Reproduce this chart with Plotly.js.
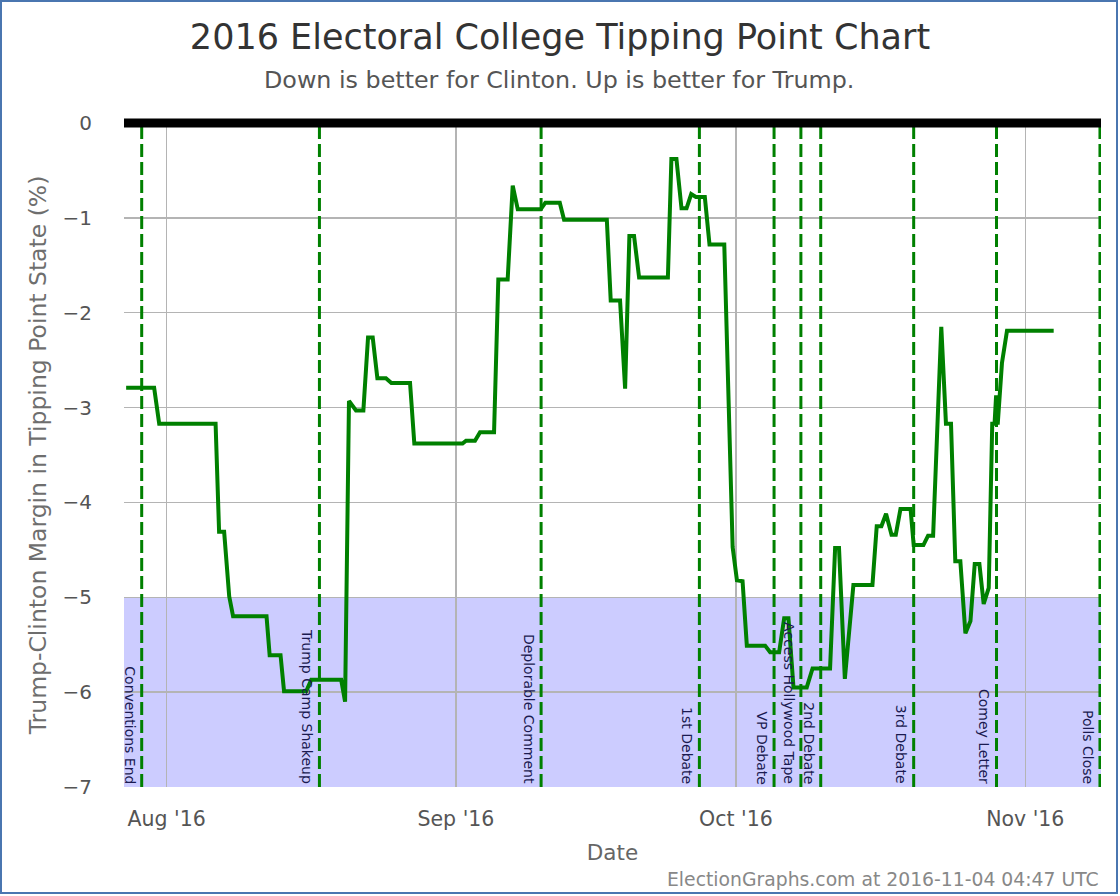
<!DOCTYPE html>
<html>
<head>
<meta charset="utf-8">
<script src="https://cdn.plot.ly/plotly-3.0.1.min.js"></script>
<style>
  html, body { margin: 0; padding: 0; background: #fff; }
  #wrap { position: relative; width: 1120px; height: 896px; }
  #chart { width: 1120px; height: 896px; }
  #frame { position: absolute; left: 0; top: 0; width: 1118px; height: 894px;
           box-sizing: border-box; border: 2px solid #4a76b0; pointer-events: none; }
</style>
</head>
<body>
<div id="wrap"><div id="chart"></div><div id="frame"></div></div>
<script>
// Tipping point margin series (Trump - Clinton, %)
const dates = [
  '2016-07-27 16:00','2016-07-30 16:00','2016-07-31 05:00','2016-08-06 06:00','2016-08-06 15:00',
  '2016-08-07 04:00','2016-08-07 17:00','2016-08-08 03:00','2016-08-11 17:00','2016-08-12 01:00',
  '2016-08-13 05:00','2016-08-13 14:00','2016-08-15 23:00','2016-08-16 12:00','2016-08-19 17:00',
  '2016-08-20 03:00','2016-08-20 13:00','2016-08-21 07:00','2016-08-22 02:00','2016-08-22 14:00',
  '2016-08-23 02:00','2016-08-23 14:00','2016-08-24 12:00','2016-08-25 02:00','2016-08-27 02:00',
  '2016-08-27 13:00','2016-09-01 17:00','2016-09-02 02:00','2016-09-03 01:00','2016-09-03 14:00',
  '2016-09-05 02:00','2016-09-05 13:00','2016-09-06 13:00','2016-09-07 02:00','2016-09-07 15:00',
  '2016-09-10 02:00','2016-09-10 14:00','2016-09-12 03:00','2016-09-12 14:00','2016-09-17 04:00',
  '2016-09-17 14:00','2016-09-18 14:00','2016-09-19 03:00','2016-09-19 14:00','2016-09-20 02:00',
  '2016-09-20 15:00','2016-09-23 17:00','2016-09-24 02:00','2016-09-24 15:00','2016-09-25 04:00',
  '2016-09-25 17:00','2016-09-26 05:00','2016-09-26 17:00','2016-09-27 16:00','2016-09-28 04:00',
  '2016-09-29 18:00','2016-09-30 15:30','2016-10-01 02:30','2016-10-01 17:00','2016-10-02 04:00',
  '2016-10-04 03:00','2016-10-04 16:00','2016-10-05 15:00','2016-10-06 04:00','2016-10-06 15:00',
  '2016-10-07 04:00','2016-10-08 14:00','2016-10-09 05:00','2016-10-11 02:00','2016-10-11 15:00',
  '2016-10-12 01:00','2016-10-12 16:00','2016-10-13 14:00','2016-10-15 15:00','2016-10-16 02:00',
  '2016-10-16 14:00','2016-10-17 02:00','2016-10-17 16:00','2016-10-18 03:00','2016-10-18 15:00',
  '2016-10-19 17:00','2016-10-20 01:00','2016-10-21 02:00','2016-10-21 14:00','2016-10-22 03:00',
  '2016-10-23 00:00','2016-10-23 12:00','2016-10-24 01:00','2016-10-24 12:00','2016-10-25 01:00',
  '2016-10-25 14:00','2016-10-26 03:00','2016-10-26 14:00','2016-10-27 02:00','2016-10-27 13:00',
  '2016-10-28 02:00','2016-10-28 11:00','2016-10-28 17:00','2016-10-28 21:00','2016-10-29 01:00',
  '2016-10-29 12:00','2016-10-30 01:00','2016-11-04 01:00'
];
const margins = [
  -2.79,-2.79,-3.17,-3.17,-4.31,
  -4.31,-4.99,-5.20,-5.20,-5.61,
  -5.61,-5.99,-5.99,-5.87,-5.87,
  -6.10,-2.93,-3.03,-3.03,-2.26,
  -2.26,-2.69,-2.69,-2.74,-2.74,
  -3.38,-3.38,-3.35,-3.35,-3.26,
  -3.26,-1.65,-1.65,-0.66,-0.91,
  -0.91,-0.84,-0.84,-1.02,-1.02,
  -1.87,-1.87,-2.80,-1.19,-1.19,
  -1.63,-1.63,-0.38,-0.38,-0.90,
  -0.90,-0.75,-0.78,-0.78,-1.28,
  -1.28,-4.47,-4.82,-4.83,-5.51,
  -5.51,-5.58,-5.58,-5.22,-5.22,
  -5.95,-5.95,-5.75,-5.75,-4.48,
  -4.48,-5.86,-4.87,-4.87,-4.25,
  -4.25,-4.12,-4.34,-4.34,-4.07,
  -4.07,-4.45,-4.45,-4.35,-4.35,
  -2.15,-3.17,-3.17,-4.62,-4.62,
  -5.38,-5.25,-4.65,-4.65,-5.07,
  -4.90,-3.17,-3.17,-2.87,-3.18,
  -2.53,-2.19,-2.19
];

// Event markers
const eventNames = ['Conventions End','Trump Camp Shakeup','Deplorable Comment','1st Debate','VP Debate',
  'Access Hollywood Tape','2nd Debate','3rd Debate','Comey Letter','Polls Close'];
const eventDates = ['2016-07-29 08:00','2016-08-17 09:00','2016-09-10 03:00','2016-09-27 02:00','2016-10-05 02:00',
  '2016-10-07 23:00','2016-10-10 02:00','2016-10-20 01:00','2016-10-28 22:00','2016-11-09 00:00'];

// Shaded band and axis range
const bandRange = [-7, -5];
const xRange = ['2016-07-27 10:30', '2016-11-09 02:40'];
const yRange = [-7, 0];

const FONT = 'DejaVu Sans, sans-serif';
const traces = [];
eventDates.forEach(function (d) {
  traces.push({ x: [d, d], y: yRange, mode: 'lines', hoverinfo: 'skip', showlegend: false,
    line: { color: '#008000', width: 3, dash: '13px,5px' } });
});
traces.push({ x: dates, y: margins, mode: 'lines', showlegend: false,
  line: { color: '#008000', width: 4, shape: 'linear' } });

const shapes = [
  { type: 'rect', xref: 'paper', yref: 'y', x0: 0, x1: 1, y0: bandRange[0], y1: bandRange[1],
    fillcolor: 'rgba(0,0,255,0.2)', line: { width: 0 }, layer: 'between' },
  { type: 'line', xref: 'paper', yref: 'paper', x0: 0, x1: 1, y0: 1, y1: 1,
    line: { color: '#000', width: 9 }, layer: 'above' }
];

const annotations = eventNames.map(function (n, i) {
  return { x: eventDates[i], y: yRange[0], xref: 'x', yref: 'y', text: n, showarrow: false,
    textangle: 90, xanchor: 'right', yanchor: 'bottom', xshift: -2, yshift: 1,
    font: { family: FONT, size: 14, color: '#1a1a50' } };
});
annotations.push({ xref: 'paper', yref: 'paper', x: (559 - 124) / 977, y: 1, yshift: 43, xanchor: 'center', yanchor: 'middle',
  text: 'Down is better for Clinton. Up is better for Trump.', showarrow: false,
  font: { family: FONT, size: 23.8, color: '#555' } });
annotations.push({ xref: 'paper', yref: 'paper', x: 1, y: 0, yshift: -92, xanchor: 'right', yanchor: 'middle',
  text: 'ElectionGraphs.com at 2016-11-04 04:47 UTC', showarrow: false,
  font: { family: FONT, size: 18.8, color: '#888' } });

const layout = {
  width: 1120, height: 896,
  margin: { l: 124, r: 19, t: 123, b: 109 },
  paper_bgcolor: '#fff', plot_bgcolor: '#fff',
  title: { text: '2016 Electoral College Tipping Point Chart', x: 0.5, xanchor: 'center',
    y: 1 - 37/896, yanchor: 'middle', yref: 'container',
    font: { family: FONT, size: 35, color: '#333' } },
  xaxis: { type: 'date', range: xRange, dtick: 'M1', tickformat: "%b '%y",
    showgrid: true, gridcolor: '#b4b4b4', gridwidth: 1.5, zeroline: false, showline: false,
    ticks: '', tickfont: { family: FONT, size: 20.5, color: '#555' }, ticklabelstandoff: 17,
    title: { text: 'Date', standoff: 15, font: { family: FONT, size: 21.5, color: '#666' } } },
  yaxis: { range: yRange, dtick: 1, showgrid: true, gridcolor: '#b4b4b4', gridwidth: 1.5,
    zeroline: false, showline: false, ticks: '', ticklabelstandoff: 31,
    tickfont: { family: FONT, size: 20, color: '#555' },
    title: { text: 'Trump-Clinton Margin in Tipping Point State (%)', standoff: 9,
      font: { family: FONT, size: 23.5, color: '#6e6e6e' } } },
  shapes: shapes,
  annotations: annotations
};

Plotly.newPlot('chart', traces, layout, { displayModeBar: false, staticPlot: true });
</script>
</body>
</html>
